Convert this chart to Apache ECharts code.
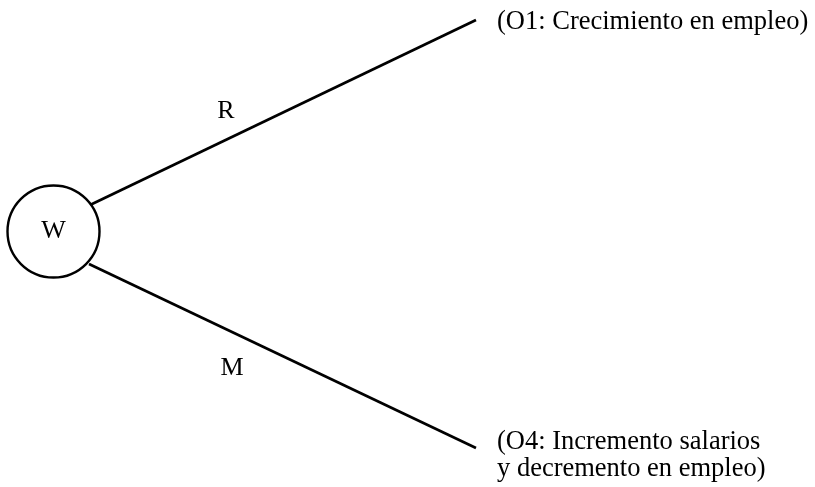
<!DOCTYPE html>
<html><head><meta charset="utf-8">
<script src="https://cdn.jsdelivr.net/npm/echarts@6/dist/echarts.min.js"></script>
<style>html,body{margin:0;padding:0;background:#fff}#c{width:815px;height:487px}</style>
</head><body><div id="c"></div>
<script>
// Diagram space: x 0..815, y 0..487 (y downward)
const rootNode = { name: 'W', x: 53.5, y: 231.5 };
const branchNames = ['R', 'M'];
const branchStart = [[90, 205], [89, 264]];
const branchEnd = [[476, 20], [476, 448]];
const branchLabelPos = [[226, 111], [232, 368]];
const outcomeTexts = ['(O1: Crecimiento en empleo)', '(O4: Incremento salarios\ny decremento en empleo)'];
const outcomePos = [[497, 22], [497, 456]];

const FONT = '"Liberation Serif", "DejaVu Serif", serif';
const series = [];
branchNames.forEach((n, i) => {
  series.push({
    type: 'line', data: [branchStart[i], branchEnd[i]], symbol: 'none',
    lineStyle: { color: '#000', width: 2.7 }, silent: true, z: 2
  });
});
series.push({
  type: 'scatter', data: [[rootNode.x, rootNode.y]], symbol: 'circle', symbolSize: 92,
  itemStyle: { color: '#fff', borderColor: '#000', borderWidth: 2.4, opacity: 1 },
  label: { show: true, position: 'inside', formatter: rootNode.name, color: '#000', fontFamily: FONT, fontSize: 26 },
  z: 3
});
series.push({
  type: 'scatter', symbolSize: 0,
  itemStyle: { opacity: 1 },
  data: branchLabelPos.map((p, i) => ({ value: p, name: branchNames[i] })),
  label: { show: true, position: 'inside', formatter: '{b}', color: '#000', fontFamily: FONT, fontSize: 26 },
  z: 4
});
series.push({
  type: 'scatter', symbolSize: 0,
  itemStyle: { opacity: 1 },
  data: outcomePos.map((p, i) => ({ value: p, name: outcomeTexts[i] })),
  label: { show: true, position: 'right', distance: 0, formatter: '{b}', color: '#000', fontFamily: FONT, fontSize: 26.5, lineHeight: 27, align: 'left' },
  z: 4
});

const chart = echarts.init(document.getElementById('c'));
chart.setOption({
  animation: false,
  grid: { left: 0, right: 0, top: 0, bottom: 0 },
  xAxis: { type: 'value', min: 0, max: 815, show: false },
  yAxis: { type: 'value', min: 0, max: 487, inverse: true, show: false },
  series: series
});
</script></body></html>
